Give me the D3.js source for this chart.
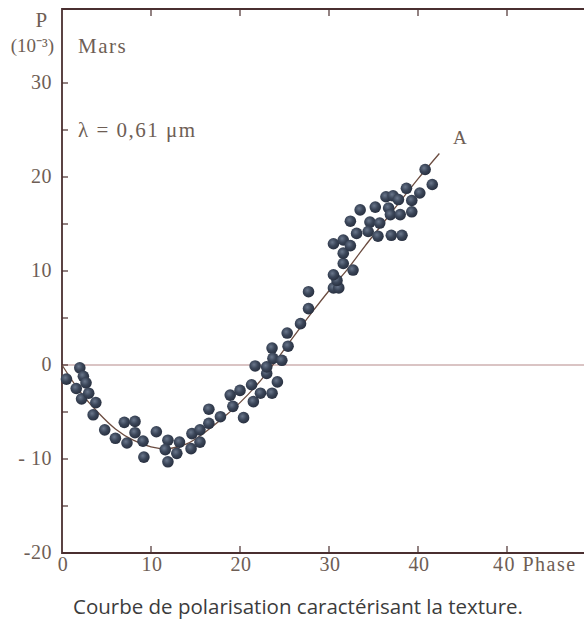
<!DOCTYPE html>
<html>
<head>
<meta charset="utf-8">
<script src="https://cdn.jsdelivr.net/npm/d3@7"></script>
<style>
  body { margin: 0; background: #fff; }
  .tick-label { font-family: "Liberation Serif", serif; font-size: 20px; fill: #6e5e55; letter-spacing: 0.5px; }
  .note { font-family: "Liberation Serif", serif; font-size: 21px; fill: #6e5e55; letter-spacing: 1.5px; }
  .caption { font-family: "Open Sans", sans-serif; font-size: 20.5px; fill: #3c3c3c; }
</style>
</head>
<body>
<div id="chart"></div>
<script>
// measured points (phase angle in degrees, polarisation in 10^-3)
var phase = [0.5, 2.0, 2.4, 1.6, 2.7, 2.2, 3.0, 3.8, 3.5, 4.8,
    6.0, 7.0, 8.2, 7.3, 8.2, 9.1, 9.2, 10.6, 11.9, 11.6,
    11.9, 13.2, 12.9, 14.6, 14.5, 15.5, 15.5, 16.5, 16.5, 17.8,
    18.9, 20.0, 20.4, 19.2, 21.5, 21.3, 22.3, 23.6, 23.0, 24.2,
    21.7, 23.0, 23.6, 23.7, 24.7, 25.4, 25.3, 26.8, 27.7, 27.7,
    30.5, 31.1, 30.9, 30.5, 32.7, 31.6, 31.6, 30.5, 31.6, 32.4,
    33.1, 32.4, 33.5, 34.6, 35.2, 34.4, 35.5, 37.0, 38.2, 35.7,
    36.4, 37.2, 36.7, 36.9, 38.0, 37.8, 38.7, 39.3, 39.3, 40.2,
    40.8, 41.6];
var polar = [-1.5, -0.3, -1.2, -2.5, -1.9, -3.6, -3.0, -4.0, -5.3, -6.9,
    -7.8, -6.1, -6.0, -8.3, -7.2, -8.1, -9.8, -7.1, -8.0, -9.0,
    -10.3, -8.2, -9.4, -7.3, -8.9, -6.9, -8.2, -6.2, -4.7, -5.5,
    -3.2, -2.7, -5.6, -4.4, -3.9, -2.1, -3.0, -3.0, -0.9, -1.8,
    -0.1, -0.2, 1.8, 0.7, 0.5, 2.0, 3.4, 4.4, 6.0, 7.8,
    8.2, 8.2, 9.0, 9.6, 10.1, 10.8, 11.9, 12.9, 13.3, 12.7,
    14.0, 15.3, 16.5, 15.2, 16.8, 14.2, 13.7, 13.8, 13.8, 15.1,
    17.9, 18.0, 16.7, 16.0, 16.0, 17.6, 18.8, 17.5, 16.3, 18.3,
    20.8, 19.2];

// fitted curve A
var curvePhase = [0, 2, 4, 6, 8, 10, 12, 14, 16, 18, 20, 22, 24, 26, 28, 30, 32, 34, 36, 38, 40, 42.4];
var curveP = [0, -2.8, -5.0, -6.8, -8.0, -8.7, -8.9, -8.4, -7.2, -5.7, -4.0, -2.0, 0.4, 3.0, 5.5, 7.9, 10.1, 12.6, 15.0, 17.4, 19.8, 22.5];

var yTicks = [-20, -10, 0, 10, 20, 30];
var yTickLabels = ["-20", "- 10", "0", "10", "20", "30"];
var yMinor = [-15, -5, 5, 15, 25];
var xTicks = [0, 10, 20, 30, 40, 50];
var xTickLabels = ["0", "10", "20", "30", "40", "40 Phase"];

var W = 584, H = 628;
var svg = d3.select("#chart").append("svg").attr("width", W).attr("height", H);

var x = d3.scaleLinear().domain([0, 50]).range([62, 507]);
var y = d3.scaleLinear().domain([-20, 30]).range([553, 83]);
var frameTop = 9;

var defs = svg.append("defs");
var grad = defs.append("radialGradient").attr("id", "ball")
    .attr("cx", "40%").attr("cy", "38%").attr("r", "60%");
grad.append("stop").attr("offset", "0%").attr("stop-color", "#6a778c");
grad.append("stop").attr("offset", "55%").attr("stop-color", "#3b4659");
grad.append("stop").attr("offset", "100%").attr("stop-color", "#2a3242");

// zero line
svg.append("line")
    .attr("x1", x(0)).attr("x2", W)
    .attr("y1", y(0)).attr("y2", y(0))
    .attr("stroke", "#b58a8a").attr("stroke-width", 1.2);

// frame
var frame = svg.append("g").attr("stroke", "#4a2f30").attr("stroke-width", 1.8).attr("fill", "none");
frame.append("path").attr("d", "M" + W + "," + frameTop + "H" + x(0) + "V" + y(-20) + "H" + W);

// y ticks (inward)
frame.selectAll(".yt").data(yTicks.concat(yMinor)).enter().append("line")
    .attr("x1", x(0)).attr("x2", x(0) + 6)
    .attr("y1", function(d) { return y(d); }).attr("y2", function(d) { return y(d); })
    .attr("stroke-width", 1.2);

// x ticks bottom and top
frame.selectAll(".xb").data(xTicks.slice(1)).enter().append("line")
    .attr("x1", function(d) { return x(d); }).attr("x2", function(d) { return x(d); })
    .attr("y1", y(-20)).attr("y2", y(-20) - 7)
    .attr("stroke-width", 1.2);
frame.selectAll(".xt").data(xTicks.slice(1)).enter().append("line")
    .attr("x1", function(d) { return x(d); }).attr("x2", function(d) { return x(d); })
    .attr("y1", frameTop).attr("y2", frameTop + 7)
    .attr("stroke-width", 1.2);

svg.selectAll(".ylab").data(yTicks).enter().append("text")
    .attr("class", "tick-label")
    .attr("x", 52)
    .attr("y", function(d) { return y(d) + 6; })
    .attr("text-anchor", "end")
    .text(function(d, i) { return yTickLabels[i]; });

svg.selectAll(".xlab").data(xTicks).enter().append("text")
    .attr("class", "tick-label")
    .attr("x", function(d, i) { return i == xTicks.length - 1 ? x(d) - 14 : x(d) + 1; })
    .attr("y", 571)
    .attr("text-anchor", function(d, i) { return i == xTicks.length - 1 ? "start" : "middle"; })
    .style("letter-spacing", function(d, i) { return i == xTicks.length - 1 ? "1.5px" : null; })
    .text(function(d, i) { return xTickLabels[i]; });

// axis title
svg.append("text").attr("class", "note").attr("x", 42).attr("y", 27).attr("text-anchor", "middle").text("P");
svg.append("text").attr("class", "note").style("letter-spacing", "0px").style("font-size", "19px")
    .attr("x", 54).attr("y", 52).attr("text-anchor", "end").text("(10\u207B\u00B3)");

svg.append("text").attr("class", "note").attr("x", 78).attr("y", 53).text("Mars");
svg.append("text").attr("class", "note").attr("x", 78).attr("y", 137).text("\u03BB = 0,61 \u03BCm");
svg.append("text").attr("class", "note").attr("x", 453).attr("y", 144).style("font-size", "19px").text("A");

// curve
var line = d3.line()
    .x(function(d) { return x(d[0]); })
    .y(function(d) { return y(d[1]); })
    .curve(d3.curveCatmullRom);

svg.append("path")
    .datum(d3.zip(curvePhase, curveP))
    .attr("d", line)
    .attr("fill", "none")
    .attr("stroke", "#6b4c40")
    .attr("stroke-width", 1.3);

// points
svg.selectAll(".pt").data(d3.zip(phase, polar)).enter().append("circle")
    .attr("cx", function(d) { return x(d[0]); })
    .attr("cy", function(d) { return y(d[1]); })
    .attr("r", 5.8)
    .attr("fill", "url(#ball)");

svg.append("text").attr("class", "caption")
    .attr("x", 73).attr("y", 614)
    .text("Courbe de polarisation caractérisant la texture.");
</script>
</body>
</html>
